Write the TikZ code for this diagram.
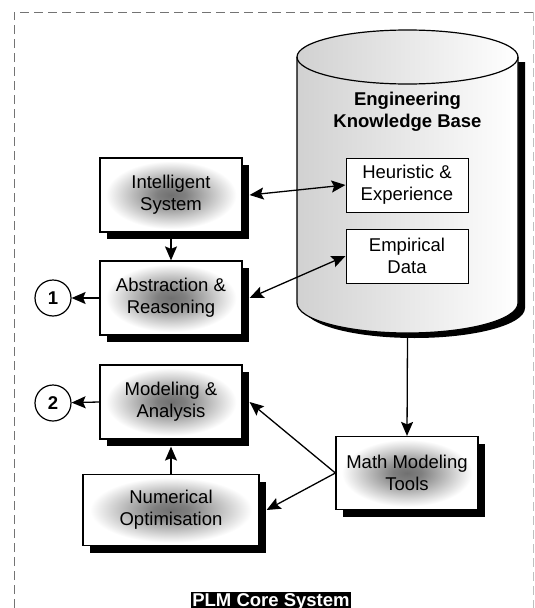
\documentclass[tikz,border=0pt]{standalone}
\usepackage{fontspec}
\setmainfont{Liberation Sans}
\usetikzlibrary{arrows.meta,shadows}

% soft grey glow in the middle of the blocks
\pgfdeclareradialshading{blkglow}{\pgfpoint{0bp}{0bp}}{color(0bp)=(black!56); color(5bp)=(black!50); color(23bp)=(white); color(50bp)=(white)}

\begin{document}
\begin{tikzpicture}[x=1pt, y=-1pt, >={Stealth[length=14pt, width=12pt, inset=2.5pt]},
  every node/.style={font=\fontsize{18.5}{22}\selectfont, align=center},
  blk/.style={draw, line width=1.2pt, minimum width=142pt, minimum height=74pt, shading=blkglow, drop shadow={shadow xshift=7pt, shadow yshift=-7pt, opacity=1, fill=black}},
  kbbox/.style={draw, line width=1pt, fill=white, minimum width=122pt, minimum height=54pt},
  num/.style={circle, draw, line width=1.2pt, fill=white, minimum size=36pt, inner sep=0pt, font=\fontsize{18.5}{22}\selectfont\bfseries},
  link/.style={line width=1.3pt}]
	\useasboundingbox (0,0) rectangle (535,608);
	% frame round the core system
	\draw[black!55, line width=0.8pt, dash pattern=on 9pt off 5pt] (14,608) -- (14,12) -- (533,12);
	\draw[black!25, line width=0.8pt, dash pattern=on 9pt off 5pt] (533,12) -- (533,608);
	% knowledge base drum
	\fill[black] (304,62) -- (525,62) -- (525,308) arc[start angle=0, end angle=180, x radius=110.5, y radius=30] -- cycle;
	\draw[line width=1.2pt, left color=black!18, right color=white] (297,57) arc[start angle=180, end angle=360, x radius=110.5, y radius=27] -- (518,303) arc[start angle=0, end angle=180, x radius=110.5, y radius=30] -- cycle;
	\draw[line width=1.2pt] (297,57) arc[start angle=180, end angle=0, x radius=110.5, y radius=27];
	\coordinate (kbfoot) at (407.5,338);
	\node[font=\fontsize{18.5}{22}\selectfont\bfseries] (kbtitle) at (407.5,112) {Engineering\\Knowledge Base};
	\node[kbbox] (hx) at (407,185) {Heuristic \&\\Experience};
	\node[kbbox] (em) at (407,256) {Empirical\\Data};
	% process blocks
	\node[blk] (is) at (171,195) {Intelligent\\System};
	\node[blk] (ar) at (171,298) {Abstraction \&\\Reasoning};
	\node[blk] (ma) at (171,402) {Modeling \&\\Analysis};
	\node[blk, minimum width=176pt, minimum height=71pt] (no) at (171,510) {Numerical\\Optimisation};
	\node[blk, minimum height=73pt] (mt) at (407,473) {Math Modeling\\Tools};
	\node[num] (c1) at (53,298) {1};
	\node[num] (c2) at (53,403) {2};
	% links
	\draw[link, ->] (is.south) -- (ar.north);
	\draw[link, <->] ([xshift=7pt]is.east) -- (hx.west);
	\draw[link, <->] ([xshift=7pt]ar.east) -- (em.west);
	\draw[link, ->] (ar.west) -- (c1);
	\draw[link, ->] (ma.west) -- (c2);
	\draw[link, ->] (no.north) -- ([yshift=-7pt]ma.south);
	\draw[link, ->] (mt.west) -- ([xshift=7pt]ma.east);
	\draw[link, ->] (mt.west) -- ([xshift=7pt]no.east);
	\draw[link, ->] (kbfoot) -- (mt.north);
	\node[fill=black, text=white, font=\fontsize{18.5}{22}\selectfont\bfseries, inner sep=1.5pt, anchor=base] (plm) at (271,606.5) {PLM Core System};
\end{tikzpicture}
\end{document}
